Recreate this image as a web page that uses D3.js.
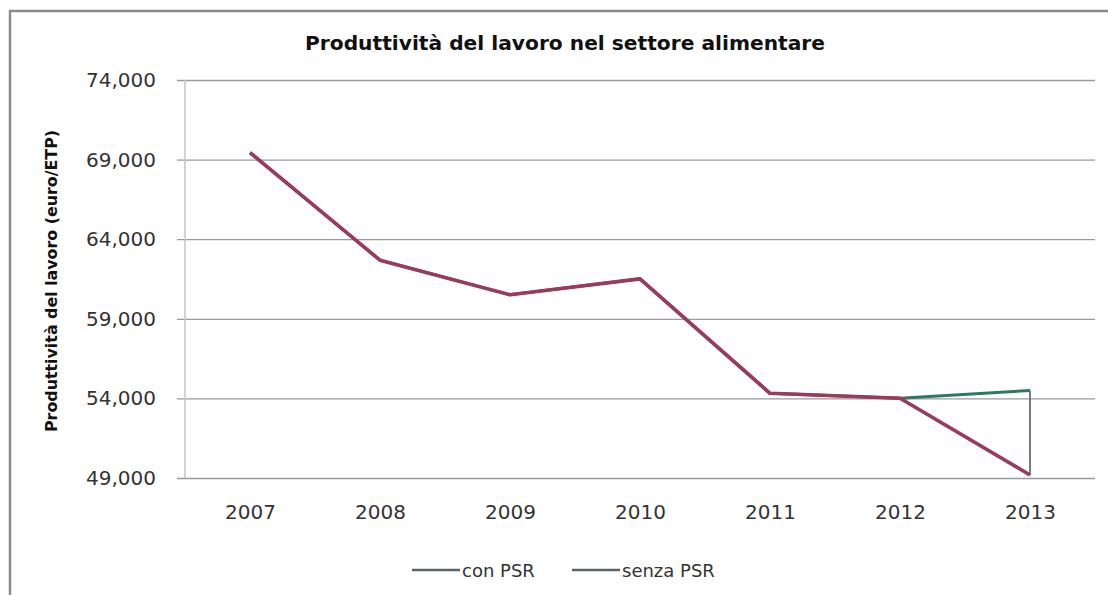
<!DOCTYPE html>
<html>
<head>
<meta charset="utf-8">
<script src="https://cdn.jsdelivr.net/npm/d3@7"></script>
<style>
  body { margin: 0; background: #fff; }
  text { font-family: "DejaVu Sans", Verdana, sans-serif; }
</style>
</head>
<body>
<div id="chart"></div>
<script>
var width = 1108, height = 595;

// data
var years = ["2007", "2008", "2009", "2010", "2011", "2012", "2013"];
var conPSR = [69440, 62680, 60510, 61510, 54320, 54010, 54500];
var senzaPSR = [69440, 62680, 60510, 61510, 54320, 54010, 49190];
var yTicks = [49000, 54000, 59000, 64000, 69000, 74000];
var seriesNames = ["con PSR", "senza PSR"];

var plotLeft = 185, plotRight = 1095, plotTop = 80, plotBottom = 478;

var svg = d3.select('#chart')
    .append('svg')
    .attr('width', width)
    .attr('height', height);

svg.append('rect')
    .attr('width', width).attr('height', height)
    .attr('fill', '#fff');

// outer frame (right / bottom edges fall off the picture)
svg.append('rect')
    .attr('x', 10).attr('y', 11)
    .attr('width', 1140).attr('height', 640)
    .attr('fill', 'none')
    .attr('stroke', '#8c8c8c')
    .attr('stroke-width', 2.5);

var x = d3.scalePoint()
    .domain(years)
    .range([plotLeft, plotRight])
    .padding(0.5);

var y = d3.scaleLinear()
    .domain([49000, 74000])
    .range([plotBottom, plotTop]);

// gridlines + y labels
var yAxis = d3.axisLeft(y)
    .tickValues(yTicks)
    .tickFormat(d3.format(','))
    .tickSizeInner(-(plotRight - 177))
    .tickSizeOuter(0)
    .tickPadding(21);

var yG = svg.append('g')
    .attr('transform', 'translate(177,0)')
    .call(yAxis);
yG.select('.domain').remove();
yG.selectAll('line').attr('stroke', '#9a9a9a').attr('stroke-width', 1.3);
yG.selectAll('text')
    .attr('font-size', 20)
    .attr('fill', '#333')
    .style('font-family', '"DejaVu Sans", Verdana, sans-serif');

// vertical axis line
svg.append('line')
    .attr('x1', plotLeft).attr('x2', plotLeft)
    .attr('y1', y(74000)).attr('y2', y(49000))
    .attr('stroke', '#c4c4c4')
    .attr('stroke-width', 1.5);

// x labels
var xAxis = d3.axisBottom(x).tickSize(0).tickPadding(27);
var xG = svg.append('g')
    .attr('transform', 'translate(0,' + plotBottom + ')')
    .call(xAxis);
xG.select('.domain').remove();
xG.selectAll('text')
    .attr('font-size', 20)
    .attr('fill', '#333')
    .style('font-family', '"DejaVu Sans", Verdana, sans-serif');

// high-low lines between the two series
svg.append('g').selectAll('line')
    .data(years)
    .enter()
    .append('line')
    .attr('x1', function(d){ return x(d); })
    .attr('x2', function(d){ return x(d); })
    .attr('y1', function(d, i){ return y(conPSR[i]); })
    .attr('y2', function(d, i){ return y(senzaPSR[i]); })
    .attr('stroke', '#505050')
    .attr('stroke-width', 1.5);

var line = d3.line()
    .x(function(d, i){ return x(years[i]); })
    .y(function(d){ return y(d); });

svg.append('path')
    .datum(conPSR)
    .attr('d', line)
    .attr('fill', 'none')
    .attr('stroke', '#2f7a5c')
    .attr('stroke-width', 3);

svg.append('path')
    .datum(senzaPSR)
    .attr('d', line)
    .attr('fill', 'none')
    .attr('stroke', '#9a3a5e')
    .attr('stroke-width', 3.6)
    .attr('stroke-linejoin', 'round');

// title
svg.append('text')
    .attr('x', 565).attr('y', 50)
    .attr('text-anchor', 'middle')
    .attr('font-size', 19)
    .attr('font-weight', 'bold')
    .attr('fill', '#111')
    .attr('textLength', 520)
    .attr('lengthAdjust', 'spacingAndGlyphs')
    .text('Produttività del lavoro nel settore alimentare');

// y axis title
svg.append('text')
    .attr('transform', 'translate(57,281) rotate(-90)')
    .attr('text-anchor', 'middle')
    .attr('font-size', 15.5)
    .attr('font-weight', 'bold')
    .attr('fill', '#111')
    .attr('textLength', 302)
    .attr('lengthAdjust', 'spacingAndGlyphs')
    .text('Produttività del lavoro (euro/ETP)');

// legend
var legendX = [412, 572];
var leg = svg.append('g').selectAll('g')
    .data(seriesNames)
    .enter()
    .append('g')
    .attr('transform', function(d, i){ return 'translate(' + legendX[i] + ',570)'; });

leg.append('line')
    .attr('x1', 0).attr('x2', 48)
    .attr('stroke', '#5e6462')
    .attr('stroke-width', 2.5);

leg.append('text')
    .attr('x', 50).attr('y', 7)
    .attr('font-size', 18)
    .attr('fill', '#333')
    .text(function(d){ return d; });
</script>
</body>
</html>
